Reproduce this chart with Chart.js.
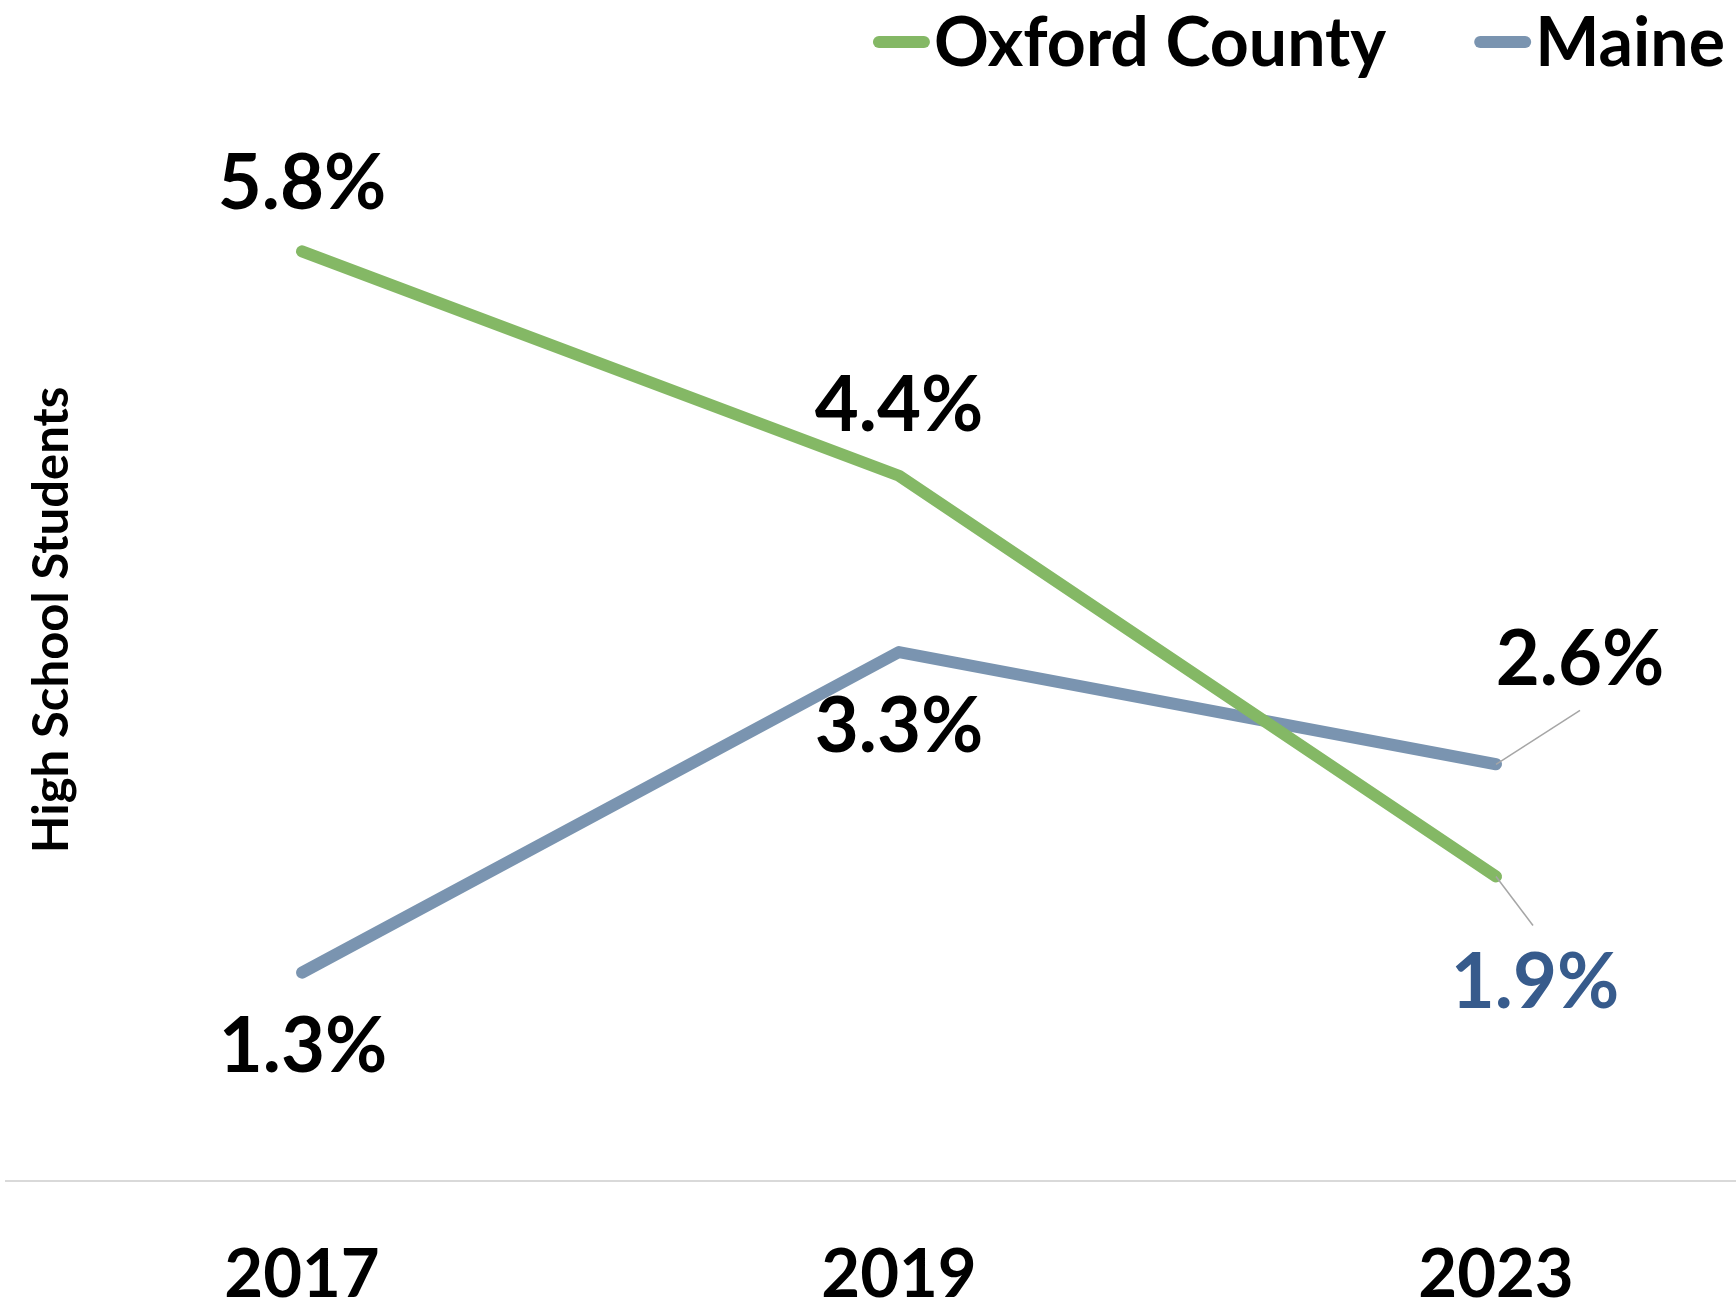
<!DOCTYPE html>
<html>
<head>
<meta charset="utf-8">
<script src="https://cdn.jsdelivr.net/npm/chart.js@4.4.0/dist/chart.umd.min.js"></script>
<style>
  html, body { margin: 0; padding: 0; background: #fff; }
  #wrap { width: 1736px; height: 1308px; }
</style>
</head>
<body>
<div id="wrap"><canvas id="chart"></canvas></div>
<script>
// data
const years = ['2017', '2019', '2023'];
const oxford = [5.8, 4.4, 1.9];
const maine = [1.3, 3.3, 2.6];

const green = '#84b865';
const slate = '#7a94b0';
const FONT = 'Lato, "Open Sans", sans-serif';

// value labels next to each point (offsets in px from the point)
const pointLabels = {
  id: 'pointLabels',
  afterDatasetsDraw(chart, args, opts) {
    const ctx = chart.ctx;
    ctx.save();
    ctx.font = 'bold ' + opts.size + 'px ' + FONT;
    ctx.textAlign = 'center';
    ctx.textBaseline = 'middle';
    chart.data.datasets.forEach((ds, di) => {
      const meta = chart.getDatasetMeta(di);
      const cfg = opts.sets[di];
      meta.data.forEach((pt, i) => {
        const lead = cfg.leaders[i];
        if (lead) {
          ctx.strokeStyle = '#a6a6a6';
          ctx.lineWidth = 1.5;
          ctx.beginPath();
          ctx.moveTo(pt.x, pt.y);
          ctx.lineTo(pt.x + lead[0], pt.y + lead[1]);
          ctx.stroke();
        }
        const off = cfg.offsets[i];
        ctx.fillStyle = cfg.colors[i];
        ctx.fillText(ds.data[i].y.toFixed(1) + '%', pt.x + off[0], pt.y + off[1]);
      });
    });
    ctx.restore();
  }
};

// legend: short rounded line right before the text, right aligned
const lineLegend = {
  id: 'lineLegend',
  afterDraw(chart, args, opts) {
    const ctx = chart.ctx;
    ctx.save();
    ctx.font = 'bold ' + opts.size + 'px ' + FONT;
    ctx.textBaseline = 'alphabetic';
    ctx.textAlign = 'left';
    ctx.lineCap = 'round';
    ctx.lineWidth = 12;
    let x = opts.right;
    const sets = chart.data.datasets.slice().reverse();
    sets.forEach((ds) => {
      const w = ctx.measureText(ds.label).width;
      const tx = x - w;
      ctx.fillStyle = '#000';
      ctx.fillText(ds.label, tx, opts.baseline);
      ctx.strokeStyle = ds.borderColor;
      ctx.beginPath();
      ctx.moveTo(tx - 10 - 45, opts.lineY);
      ctx.lineTo(tx - 10, opts.lineY);
      ctx.stroke();
      x = tx - 10 - 45 - 6 - 88;
    });
    ctx.restore();
  }
};

const ctx = document.getElementById('chart').getContext('2d');
new Chart(ctx, {
  type: 'line',
  data: {
    datasets: [{
      label: 'Oxford County',
      data: oxford.map((v, i) => ({x: i, y: v})),
      borderColor: green,
      backgroundColor: green,
      borderWidth: 12,
      borderCapStyle: 'round',
      borderJoinStyle: 'round',
      pointRadius: 0,
      tension: 0
    }, {
      label: 'Maine',
      data: maine.map((v, i) => ({x: i, y: v})),
      borderColor: slate,
      backgroundColor: slate,
      borderWidth: 12,
      borderCapStyle: 'round',
      borderJoinStyle: 'round',
      pointRadius: 0,
      tension: 0
    }]
  },
  options: {
    responsive: true,
    maintainAspectRatio: false,
    animation: false,
    layout: {
      padding: {top: 59, left: 6, right: 0, bottom: 0}
    },
    plugins: {
      legend: {display: false},
      tooltip: {enabled: false},
      pointLabels: {
        size: 76,
        sets: [
          {offsets: [[0, -67], [0, -69], [39, 107]], leaders: [null, null, [37, 49]], colors: ['#000', '#000', '#375b8c']},
          {offsets: [[1, 75], [0, 75], [84, -104]], leaders: [null, null, [84, -54]], colors: ['#000', '#000', '#000']}
        ]
      },
      lineLegend: {size: 68, right: 1725, baseline: 66, lineY: 42}
    },
    scales: {
      x: {
        type: 'linear',
        min: -0.4958,
        max: 2.402,
        afterBuildTicks: (scale) => { scale.ticks = years.map((y, i) => ({value: i})); },
        afterFit: (scale) => { scale.height = 127; },
        grid: {display: false, drawTicks: false},
        border: {display: true, color: '#d9d9d9', width: 2},
        ticks: {
          padding: 54,
          color: '#000',
          font: {family: FONT, size: 67, weight: 'bold'},
          callback: (v) => years[v]
        }
      },
      y: {
        min: 0,
        max: 7,
        afterFit: (scale) => { scale.width = 0; },
        grid: {display: false},
        border: {display: false},
        ticks: {display: false},
        title: {
          display: true,
          text: 'High School Students',
          color: '#000',
          padding: {top: 17},
          font: {family: FONT, size: 49, weight: 'bold'}
        }
      }
    }
  },
  plugins: [pointLabels, lineLegend]
});
</script>
</body>
</html>
